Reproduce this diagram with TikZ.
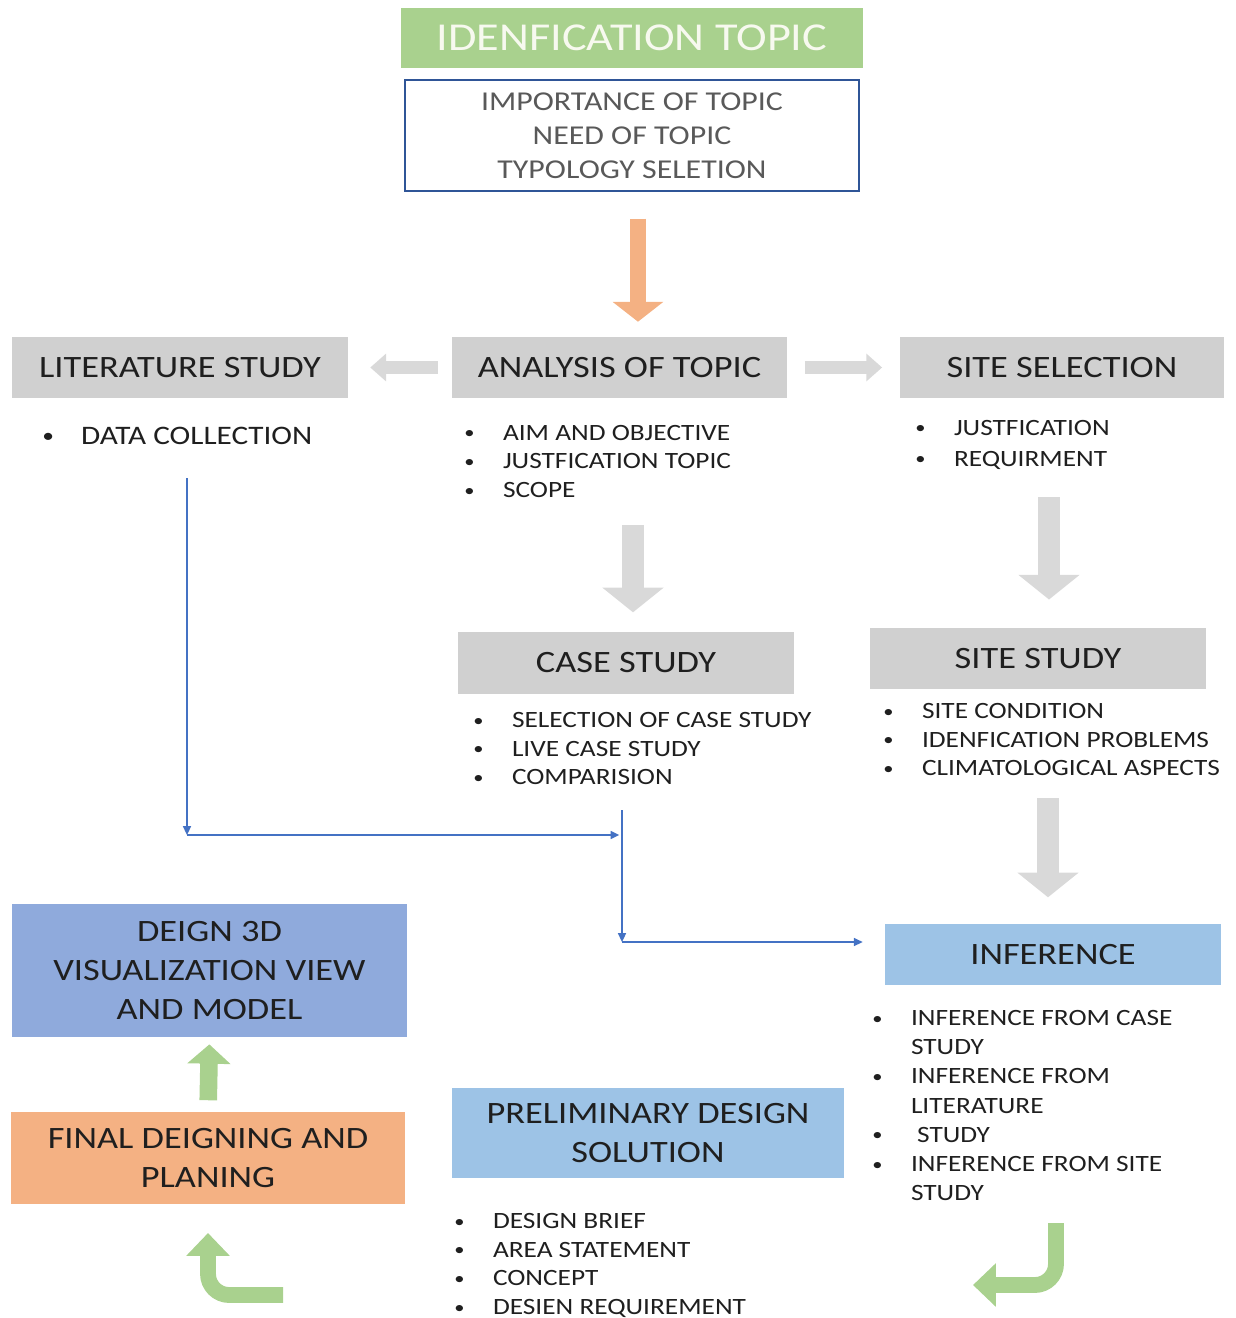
\documentclass[tikz,border=0pt]{standalone}
\usepackage{fontspec}
\setmainfont{Carlito}[FakeStretch=1.17]
\usepackage{tikz}
\usetikzlibrary{arrows.meta, positioning}
\definecolor{colorTopic}{HTML}{A9D18E}
\definecolor{colorTitle}{HTML}{F7F9EF}
\definecolor{colorBorder}{HTML}{2F5597}
\definecolor{colorSoft}{HTML}{595959}
\definecolor{colorText}{HTML}{1F1F1F}
\definecolor{colorGrey}{HTML}{D0D0D0}
\definecolor{colorArrow}{HTML}{D9D9D9}
\definecolor{colorOrange}{HTML}{F4B183}
\definecolor{colorLight}{HTML}{9DC3E6}
\definecolor{colorMid}{HTML}{8FAADC}
\definecolor{colorLine}{HTML}{4472C4}
\newcommand{\blt}{\makebox[22pt][l]{\raisebox{0.12ex}{\scalebox{0.75}{\textbullet}}}}
\newcommand{\nob}{\hspace*{22pt}}

\begin{document}
\begin{tikzpicture}[x=0.02cm, y=-0.02cm,
    box/.style={inner sep=0, text=colorText, align=center, font=\fontsize{17.7}{22}\selectfont},
    greybox/.style={box, fill=colorGrey, minimum height=1.22cm},
    item/.style={anchor=base west, inner sep=0, text=colorText, font=\fontsize{13.3}{16}\selectfont},
    bluearr/.style={draw=colorLine, line width=1pt, -{Triangle[length=5pt, width=4.5pt]}},
    fatgrey/.style={draw=colorArrow, line width=13pt, -{Triangle[length=14pt, width=34pt]}},
    sidegrey/.style={draw=colorArrow, line width=7.4pt, -{Triangle[length=9pt, width=15.3pt]}},
    fatorange/.style={draw=colorOrange, line width=9.6pt, -{Triangle[length=11.3pt, width=28.3pt]}},
    fatgreen/.style={draw=colorTopic, line width=10pt, -{Triangle[length=11pt, width=24pt]}},
    bendgreen/.style={fatgreen, line width=9pt, rounded corners=12pt, -{Triangle[length=13pt, width=24pt]}}]
        \useasboundingbox (0,0) rectangle (1236,1318);
        % top
        \node[box, fill=colorTopic, minimum width=9.24cm, minimum height=1.2cm, text=colorTitle, font=\fontsize{22.5}{27}\selectfont] (idt) at (632,38) {IDENFICATION TOPIC};
        \node[box, draw=colorBorder, line width=0.8pt, minimum width=9.08cm, minimum height=2.22cm, text=colorSoft, font=\fontsize{15.5}{19.3}\selectfont] (imp) at (632,135.5) {IMPORTANCE OF TOPIC\\NEED OF TOPIC\\TYPOLOGY SELETION};
        % grey boxes
        \node[greybox, minimum width=6.72cm] (lit) at (180,367.5) {LITERATURE STUDY};
        \node[greybox, minimum width=6.7cm] (ana) at (619.5,367.5) {ANALYSIS OF TOPIC};
        \node[greybox, minimum width=6.48cm] (sel) at (1062,367.5) {SITE SELECTION};
        \node[greybox, minimum width=6.72cm, minimum height=1.24cm] (cas) at (626,663) {CASE STUDY};
        \node[greybox, minimum width=6.72cm] (sst) at (1038,658.5) {SITE STUDY};
        % coloured boxes
        \node[box, fill=colorLight, minimum width=6.72cm, minimum height=1.22cm] (inf) at (1053,954.5) {INFERENCE};
        \node[box, fill=colorMid, minimum width=7.9cm, minimum height=2.66cm] (d3d) at (209.5,970.5) {DEIGN 3D\\VISUALIZATION VIEW\\AND MODEL};
        \node[box, fill=colorOrange, minimum width=7.88cm, minimum height=1.84cm] (fin) at (208,1158) {FINAL DEIGNING AND\\PLANING};
        \node[box, fill=colorLight, minimum width=7.84cm, minimum height=1.8cm] (pre) at (648,1133) {PRELIMINARY DESIGN\\SOLUTION};
        % lists
        \node[item, font=\fontsize{15.2}{18}\selectfont] (dat) at (42,444.5) {\blt DATA COLLECTION};
        \foreach \t [count=\i] in {AIM AND OBJECTIVE, JUSTFICATION TOPIC, SCOPE}
            \node[item] (ana\i) at (464,{440+28.7*(\i-1)}) {\blt\t};
        \foreach \t [count=\i] in {JUSTFICATION, REQUIRMENT}
            \node[item] (sel\i) at (915,{435+31*(\i-1)}) {\blt\t};
        \foreach \t [count=\i] in {SELECTION OF CASE STUDY, LIVE CASE STUDY, COMPARISION}
            \node[item] (cas\i) at (473,{727.5+28.6*(\i-1)}) {\blt\t};
        \foreach \t [count=\i] in {SITE CONDITION, IDENFICATION PROBLEMS, CLIMATOLOGICAL ASPECTS}
            \node[item] (sst\i) at (883,{718.5+28.6*(\i-1)}) {\blt\t};
        \foreach \t [count=\i] in {\blt INFERENCE FROM CASE, \nob STUDY, \blt INFERENCE FROM, \nob LITERATURE, \blt\ STUDY, \blt INFERENCE FROM SITE, \nob STUDY}
            \node[item] (inf\i) at (872,{1025.5+29.17*(\i-1)}) {\t};
        \foreach \t [count=\i] in {DESIGN BRIEF, AREA STATEMENT, CONCEPT, DESIEN REQUIREMENT}
            \node[item] (pre\i) at (454,{1228.5+28.7*(\i-1)}) {\blt\t};
        % block arrows
        \draw[fatorange, shorten <=15.3pt, shorten >=8.5pt] ([xshift=3.4pt]imp.south) -- ([xshift=3.4pt]imp.south |- ana.north);
        \draw[sidegrey, shorten <=8pt, shorten >=12.5pt] (ana.west) -- (lit.east);
        \draw[sidegrey, shorten <=10pt, shorten >=10pt] (ana.east) -- (sel.west);
        \coordinate (g1) at (633,525);
        \coordinate (g2) at (1049,497);
        \coordinate (g3) at (1048,798);
        \draw[fatgrey, shorten >=11pt] (g1) -- (g1 |- cas.north);
        \draw[fatgrey, shorten >=16pt] (g2) -- (g2 |- sst.north);
        \draw[fatgrey, shorten >=15pt] (g3) -- (g3 |- inf.north);
        \draw[fatgreen, shorten <=6.5pt, shorten >=4pt] (fin.north) -- (d3d.south);
        \coordinate (r1) at (1056,1223);
        \coordinate (r2) at (973,1285);
        \coordinate (l1) at (283,1295);
        \coordinate (l2) at (208,1233);
        \draw[bendgreen] (r1) |- (r2);
        \draw[bendgreen] (l1) -| (l2);
        % blue connectors
        \coordinate (b1) at (187,478);
        \coordinate (b2) at (187,835);
        \coordinate (b3) at (622,810);
        \coordinate (b4) at (622,942);
        \draw[bluearr] (b1) -- (b2);
        \draw[bluearr, shorten >=1.5pt] (b2) -- (b3 |- b2);
        \draw[bluearr] (b3) -- (b4);
        \draw[bluearr, shorten >=12.5pt] (b4) -- (b4 -| inf.west);
    \end{tikzpicture}
\end{document}
